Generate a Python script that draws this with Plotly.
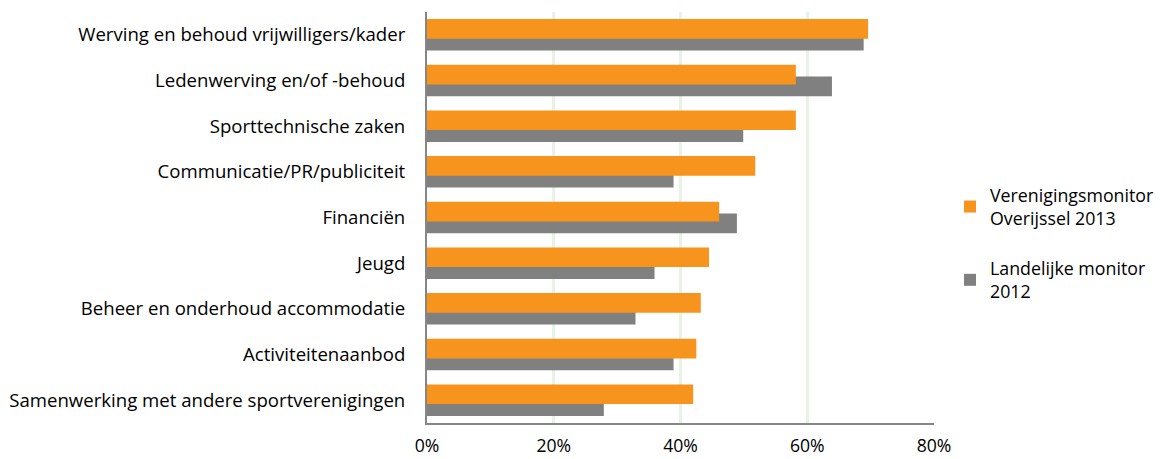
import plotly.graph_objects as go

categories = [
    "Werving en behoud vrijwilligers/kader",
    "Ledenwerving en/of -behoud",
    "Sporttechnische zaken",
    "Communicatie/PR/publiciteit",
    "Financiën",
    "Jeugd",
    "Beheer en onderhoud accommodatie",
    "Activiteitenaanbod",
    "Samenwerking met andere sportverenigingen",
]
overijssel_2013 = [0.696, 0.582, 0.582, 0.518, 0.461, 0.445, 0.432, 0.425, 0.420]
landelijk_2012 = [0.689, 0.639, 0.499, 0.389, 0.489, 0.359, 0.329, 0.389, 0.279]
x_ticks = [0, 0.2, 0.4, 0.6, 0.8]
x_ticklabels = ["0%", "20%", "40%", "60%", "80%"]

ORANGE = "#F7941E"
GRAY = "#808080"
FONT = "Open Sans"
FS = 18.6
LEG_FS = 17.8
XT_FS = 17.6

bar_w = 0.43
fig = go.Figure()
fig.add_trace(go.Bar(
    y=categories, x=landelijk_2012, orientation="h",
    name="Landelijke monitor<br>2012", marker=dict(color=GRAY, line=dict(width=0)),
    width=bar_w, offset=0.13 - bar_w / 2, legendgroup="b", legendrank=2,
    hoverinfo="x+y",
))
fig.add_trace(go.Bar(
    y=categories, x=overijssel_2013, orientation="h",
    name="Verenigingsmonitor<br>Overijssel 2013", marker=dict(color=ORANGE, line=dict(width=0)),
    width=bar_w, offset=-0.13 - bar_w / 2, legendgroup="a", legendrank=1,
    hoverinfo="x+y",
))

# page has an 8px body margin; figure is sized so the plot lands where the reference has it
fig.update_layout(
    width=1157, height=451,
    margin=dict(l=419, r=231, t=4, b=36, autoexpand=False),
    plot_bgcolor="white", paper_bgcolor="white",
    barmode="overlay",
    font=dict(family=FONT, size=FS, color="#000000"),
    showlegend=True,
    legend=dict(
        x=1.0316, y=0.437, xanchor="left", yanchor="middle",
        font=dict(family=FONT, size=LEG_FS, color="#000000"),
        tracegroupgap=24, itemwidth=30, traceorder="grouped",
        bgcolor="rgba(0,0,0,0)",
    ),
    xaxis=dict(
        range=[0, 0.8], tickvals=x_ticks, ticktext=x_ticklabels,
        showgrid=True, gridcolor="#E6F3E6", gridwidth=3,
        zeroline=False, showline=True, linecolor="#868686", linewidth=2,
        ticks="", ticklen=0, ticklabelstandoff=6, automargin=False,
        tickfont=dict(family=FONT, size=XT_FS),
    ),
    yaxis=dict(
        autorange="reversed", type="category",
        showgrid=False, zeroline=False, showline=True, linecolor="#868686", linewidth=2,
        ticks="", ticklen=0, ticklabelstandoff=16, automargin=False,
        tickfont=dict(family=FONT, size=FS),
    ),
)

fig.write_html("out.html")
